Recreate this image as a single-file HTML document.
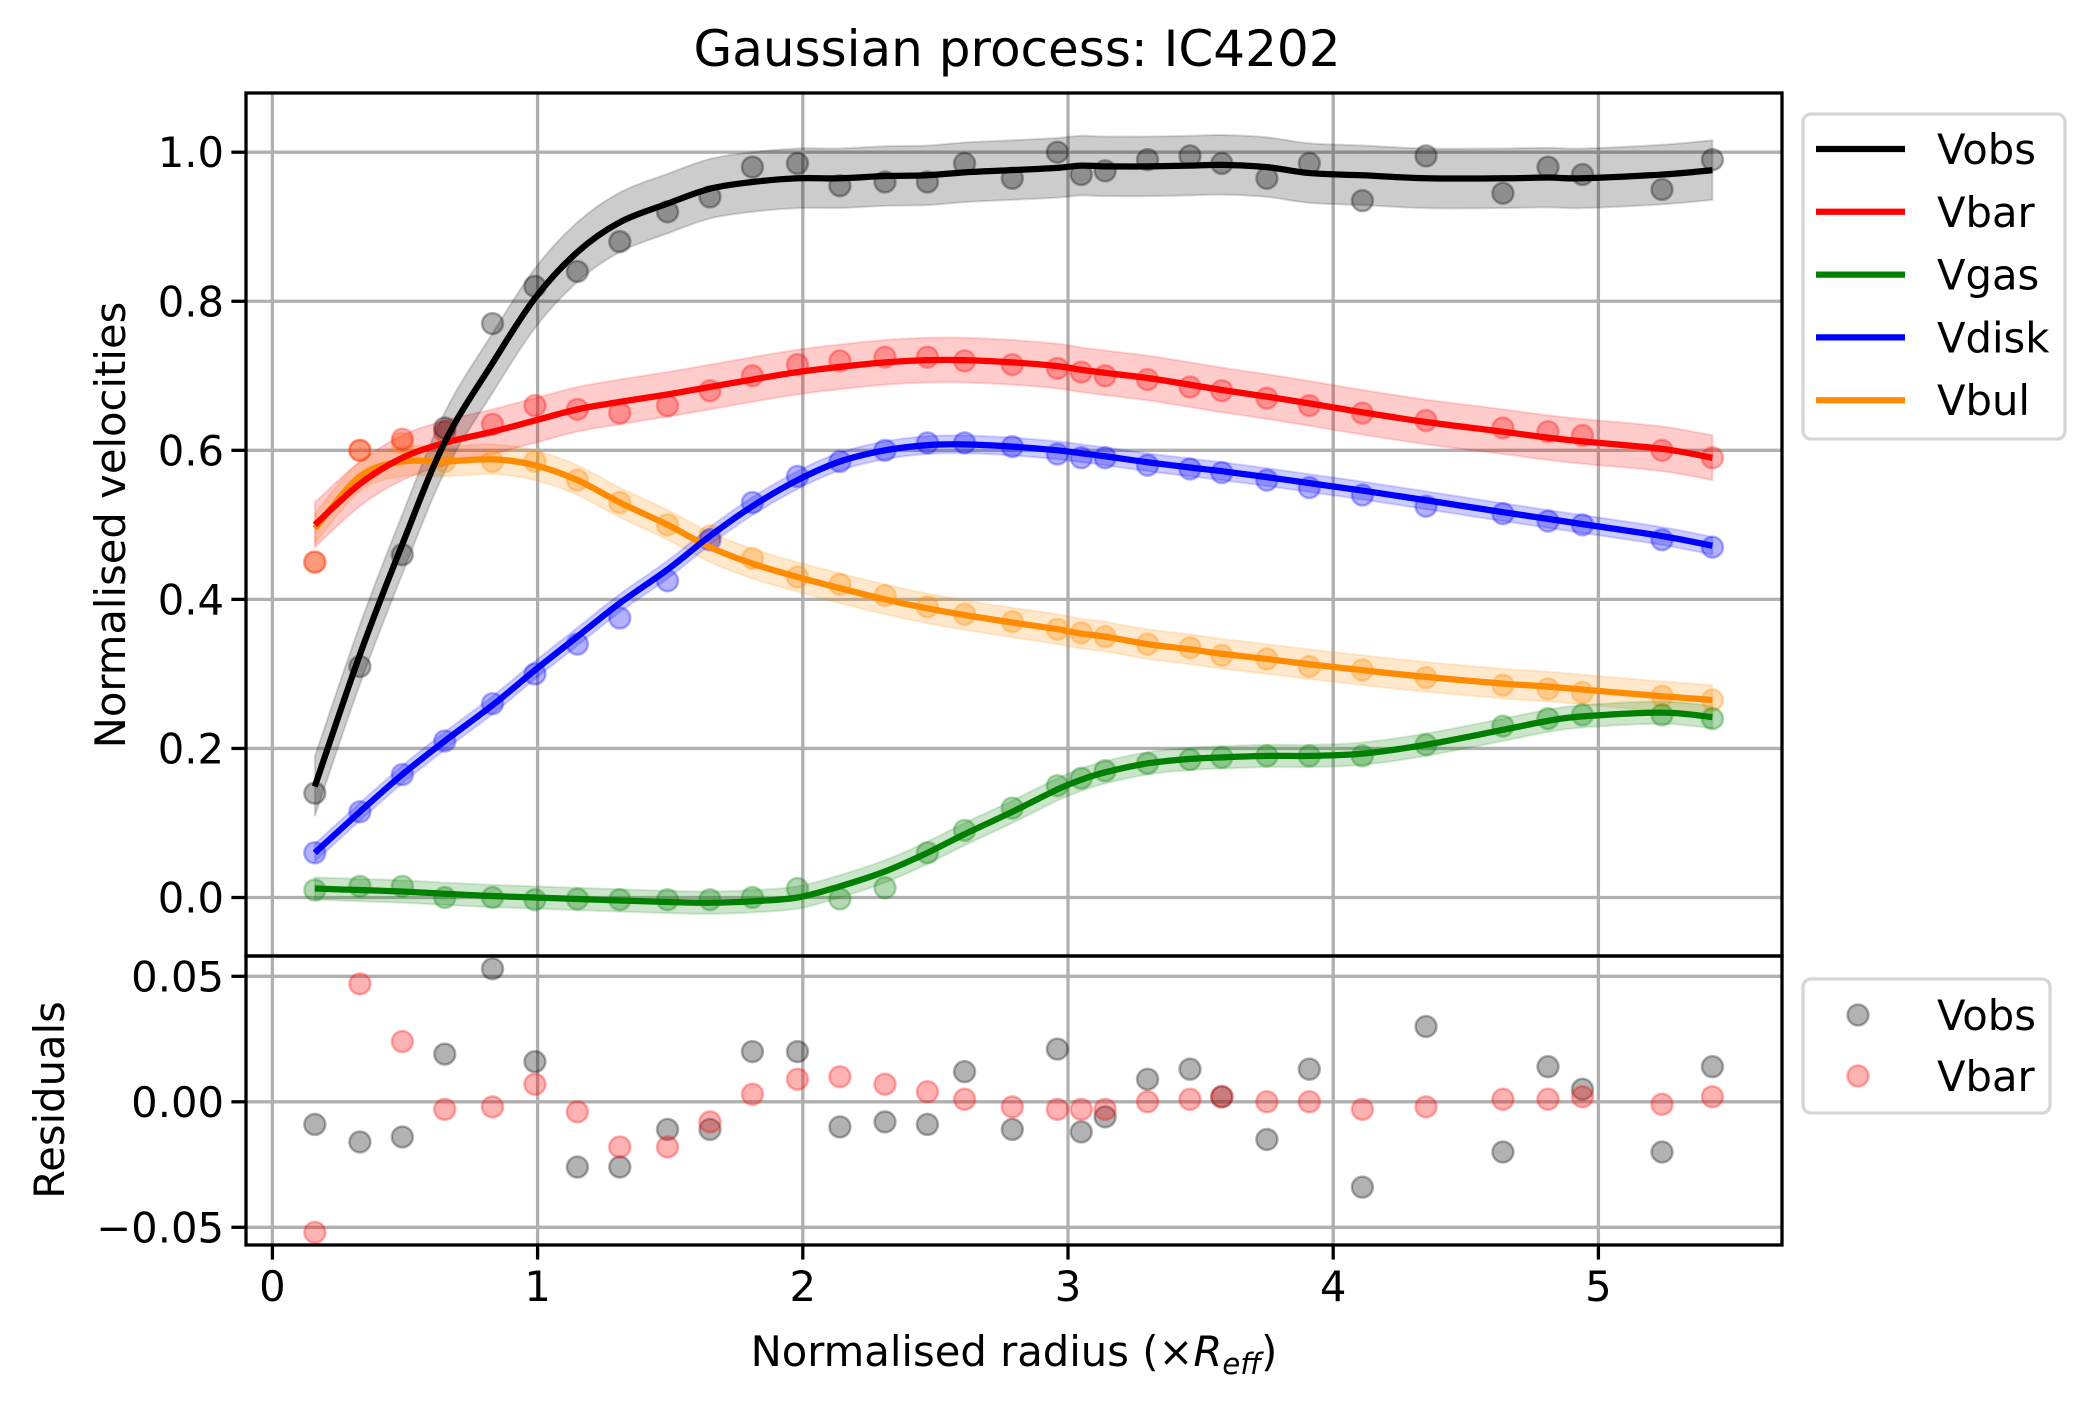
<!DOCTYPE html>
<html><head><meta charset="utf-8"><style>
html,body{margin:0;padding:0;background:#fff;}
svg{display:block;font-family:"DejaVu Sans","Liberation Sans",sans-serif;}
</style></head><body>
<svg id="chart" width="2094" height="1406" viewBox="0 0 2094 1406" xmlns="http://www.w3.org/2000/svg">
<rect width="2094" height="1406" fill="#fff"/>
<text x="1017" y="66" font-size="50" text-anchor="middle">Gaussian process: IC4202</text>
<g id="main"></g>
<g id="resid"></g>
<text transform="translate(125,525) rotate(-90)" font-size="41.7" text-anchor="middle">Normalised velocities</text>
<text transform="translate(64,1100) rotate(-90)" font-size="41.7" text-anchor="middle">Residuals</text>
<text x="1014" y="1366" font-size="41.7" text-anchor="middle">Normalised radius (×<tspan font-style="italic">R</tspan><tspan font-style="italic" font-size="29" dy="8">eff</tspan><tspan dy="-8">)</tspan></text>
</svg>
<script>
const radius=[0.16,0.33,0.49,0.65,0.83,0.99,1.15,1.31,1.49,1.65,1.81,1.98,2.14,2.31,2.47,2.61,2.79,2.96,3.05,3.14,3.30,3.46,3.58,3.75,3.91,4.11,4.35,4.64,4.81,4.94,5.24,5.43];
const obsPts=[0.14,0.31,0.46,0.63,0.77,0.82,0.84,0.88,0.92,0.94,0.98,0.985,0.955,0.96,0.96,0.985,0.965,1.0,0.97,0.975,0.99,0.995,0.985,0.965,0.985,0.935,0.995,0.945,0.98,0.97,0.95,0.99];
const obsFit=[0.149,0.326,0.474,0.611,0.717,0.804,0.866,0.906,0.931,0.951,0.96,0.965,0.965,0.968,0.969,0.973,0.976,0.979,0.982,0.981,0.981,0.982,0.983,0.98,0.972,0.969,0.965,0.965,0.966,0.965,0.97,0.976];
const barPts=[0.45,0.60,0.615,0.625,0.635,0.66,0.655,0.65,0.66,0.68,0.70,0.715,0.72,0.725,0.725,0.72,0.715,0.71,0.705,0.70,0.695,0.685,0.68,0.67,0.66,0.65,0.64,0.63,0.625,0.62,0.60,0.59];
const barFit=[0.50,0.555,0.59,0.61,0.625,0.64,0.655,0.665,0.675,0.685,0.695,0.705,0.712,0.718,0.721,0.721,0.718,0.713,0.708,0.704,0.697,0.688,0.681,0.672,0.663,0.651,0.638,0.625,0.617,0.612,0.602,0.59];
const gasPts=[0.01,0.015,0.015,0.0,0.0,-0.003,-0.002,-0.003,-0.003,-0.003,0.0,0.012,-0.002,0.013,0.06,0.09,0.12,0.15,0.16,0.17,0.18,0.185,0.188,0.19,0.19,0.19,0.205,0.23,0.24,0.245,0.245,0.24];
const gasFit=[0.012,0.01,0.008,0.005,0.002,0.0,-0.002,-0.004,-0.006,-0.007,-0.005,0.0,0.015,0.035,0.06,0.085,0.115,0.145,0.158,0.168,0.18,0.186,0.188,0.19,0.19,0.193,0.205,0.225,0.237,0.243,0.248,0.242];
const diskPts=[0.06,0.115,0.165,0.21,0.26,0.30,0.34,0.375,0.425,0.48,0.53,0.565,0.585,0.60,0.61,0.61,0.605,0.595,0.59,0.59,0.58,0.575,0.57,0.56,0.55,0.54,0.525,0.515,0.505,0.50,0.48,0.47];
const diskFit=[0.06,0.115,0.165,0.21,0.258,0.305,0.35,0.395,0.44,0.485,0.525,0.56,0.585,0.6,0.607,0.608,0.605,0.6,0.596,0.592,0.584,0.577,0.572,0.564,0.556,0.546,0.533,0.517,0.508,0.501,0.485,0.472];
const bulPts=[0.45,0.60,0.61,0.585,0.585,0.585,0.56,0.53,0.50,0.485,0.455,0.43,0.42,0.405,0.39,0.38,0.37,0.36,0.355,0.35,0.34,0.335,0.325,0.32,0.31,0.305,0.295,0.285,0.28,0.275,0.27,0.265];
const bulFit=[0.495,0.565,0.585,0.585,0.588,0.58,0.56,0.53,0.5,0.47,0.448,0.43,0.415,0.4,0.388,0.379,0.369,0.36,0.354,0.35,0.34,0.333,0.327,0.32,0.313,0.305,0.296,0.287,0.283,0.279,0.27,0.265];
const obsResid=[-0.009,-0.016,-0.014,0.019,0.053,0.016,-0.026,-0.026,-0.011,-0.011,0.020,0.020,-0.010,-0.008,-0.009,0.012,-0.011,0.021,-0.012,-0.006,0.009,0.013,0.002,-0.015,0.013,-0.034,0.030,-0.020,0.014,0.005,-0.020,0.014];
const barResid=[-0.052,0.047,0.024,-0.003,-0.002,0.007,-0.004,-0.018,-0.018,-0.008,0.003,0.009,0.010,0.007,0.004,0.001,-0.002,-0.003,-0.003,-0.003,0.0,0.001,0.002,0.0,0.0,-0.003,-0.002,0.001,0.001,0.002,-0.001,0.002];
const bandHalf=[0.04,0.03,0.015,0.012,0.02];
const seriesNames=["Vobs","Vbar","Vgas","Vdisk","Vbul"];
const xTicks=[0,1,2,3,4,5];
const yTicks=[0.0,0.2,0.4,0.6,0.8,1.0];
const yTickLabels=["0.0","0.2","0.4","0.6","0.8","1.0"];
const rTicks=[-0.05,0,0.05];
const rTickLabels=["\u22120.05","0.00","0.05"];

const NS="http://www.w3.org/2000/svg";
const L=246,R=1782,MT=93,MB=956,RB=1245;
const X=v=>272.4+265.2*v;
const Y=v=>897.5-745.3*v;
const YR=v=>1101.8-2510*v;
function mk(tag,attrs,parent){const e=document.createElementNS(NS,tag);for(const k in attrs)e.setAttribute(k,attrs[k]);parent.appendChild(e);return e;}
function smooth(pts){let d=`M${pts[0][0]},${pts[0][1]}`;for(let i=0;i<pts.length-1;i++){const p0=pts[Math.max(i-1,0)],p1=pts[i],p2=pts[i+1],p3=pts[Math.min(i+2,pts.length-1)];const c1=[p1[0]+(p2[0]-p0[0])/6,p1[1]+(p2[1]-p0[1])/6],c2=[p2[0]-(p3[0]-p1[0])/6,p2[1]-(p3[1]-p1[1])/6];d+=` C${c1[0]},${c1[1]} ${c2[0]},${c2[1]} ${p2[0]},${p2[1]}`;}return d;}
const main=document.getElementById('main'),resid=document.getElementById('resid');
// grids
xTicks.forEach(t=>{
 let g=mk('line',{x1:X(t),x2:X(t),y1:MT,y2:MB,stroke:'#b0b0b0','stroke-width':3.3},main);
 
 g=mk('line',{x1:X(t),x2:X(t),y1:MB,y2:RB,stroke:'#b0b0b0','stroke-width':3.3},resid);
 
 const tk=mk('line',{x1:X(t),x2:X(t),y1:RB,y2:RB+14.6,stroke:'#000','stroke-width':3.3},resid);
 
 const tl=mk('text',{x:X(t),y:RB+56,'font-size':41.7,'text-anchor':'middle'},resid);tl.textContent=String(t);
 
});
yTicks.forEach((t,i)=>{
 const g=mk('line',{x1:L,x2:R,y1:Y(t),y2:Y(t),stroke:'#b0b0b0','stroke-width':3.3},main);
 
 const tk=mk('line',{x1:L-14.6,x2:L,y1:Y(t),y2:Y(t),stroke:'#000','stroke-width':3.3},main);
 
 const tl=mk('text',{x:L-22,y:Y(t)+15,'font-size':41.7,'text-anchor':'end'},main);tl.textContent=yTickLabels[i];
 
});
rTicks.forEach((t,i)=>{
 const g=mk('line',{x1:L,x2:R,y1:YR(t),y2:YR(t),stroke:'#b0b0b0','stroke-width':3.3},resid);
 
 const tk=mk('line',{x1:L-14.6,x2:L,y1:YR(t),y2:YR(t),stroke:'#000','stroke-width':3.3},resid);
 
 const tl=mk('text',{x:L-22,y:YR(t)+15,'font-size':41.7,'text-anchor':'end'},resid);tl.textContent=rTickLabels[i];
 
});
const colors=['#000000','#ff0000','#008000','#0000ff','#ff8c00'];
const pts=[obsPts,barPts,gasPts,diskPts,bulPts];
const fits=[obsFit,barFit,gasFit,diskFit,bulFit];
// bands
[4,3,2,1,0].forEach(s=>{
 const up=radius.map((r,i)=>[X(r),Y(fits[s][i]+bandHalf[s])]);
 const lo=radius.map((r,i)=>[X(r),Y(fits[s][i]-bandHalf[s])]).reverse();
 const d=smooth(up)+' L'+smooth(lo).slice(1)+' Z';
 const b=mk('path',{d:d,fill:colors[s],'fill-opacity':0.2,stroke:colors[s],'stroke-opacity':0.15,'stroke-width':2},main);
 
});
// markers
[4,3,2,1,0].forEach(s=>{
 radius.forEach((r,i)=>{
  const c=mk('circle',{cx:X(r),cy:Y(pts[s][i]),r:10.5,fill:colors[s],'fill-opacity':0.3,stroke:colors[s],'stroke-opacity':0.3,'stroke-width':2.5},main);
  
 });
});
// lines
[4,3,2,1,0].forEach(s=>{
 const p=mk('path',{d:smooth(radius.map((r,i)=>[X(r),Y(fits[s][i])])),fill:'none',stroke:colors[s],'stroke-width':6.25},main);
 
});
// residual markers
radius.forEach((r,i)=>{
 let c=mk('circle',{cx:X(r),cy:YR(obsResid[i]),r:10.5,fill:'#000','fill-opacity':0.3,stroke:'#000','stroke-opacity':0.3,'stroke-width':2.5},resid);
 
});
radius.forEach((r,i)=>{
 let c=mk('circle',{cx:X(r),cy:YR(barResid[i]),r:10.5,fill:'#ff0000','fill-opacity':0.3,stroke:'#ff0000','stroke-opacity':0.3,'stroke-width':2.5},resid);
 
});
// frames
let f=mk('rect',{x:L,y:MT,width:R-L,height:MB-MT,fill:'none',stroke:'#000','stroke-width':3.3},main);

f=mk('rect',{x:L,y:MB,width:R-L,height:RB-MB,fill:'none',stroke:'#000','stroke-width':3.3},resid);

// legends
const svg=document.getElementById('chart');
const lg=mk('g',{},svg);

mk('rect',{x:1803,y:114,width:262,height:325,rx:8,fill:'#fff','fill-opacity':0.8,stroke:'#d6d6d6','stroke-width':3.3},lg);
seriesNames.forEach((n,i)=>{
 const y=149+i*62.8;
 const e=mk('g',{},lg);
 
 mk('line',{x1:1816,x2:1905,y1:y,y2:y,stroke:colors[i],'stroke-width':6.25},e);
 const t=mk('text',{x:1937,y:y+15,'font-size':41.7},e);t.textContent=n;
});
const rg=mk('g',{},svg);

mk('rect',{x:1803,y:979,width:247,height:134,rx:8,fill:'#fff','fill-opacity':0.8,stroke:'#d6d6d6','stroke-width':3.3},rg);
[['Vobs','#000'],['Vbar','#ff0000']].forEach((a,i)=>{
 const y=1015+i*61;
 const e=mk('g',{},rg);
 
 mk('circle',{cx:1858,cy:y,r:10.5,fill:a[1],'fill-opacity':0.3,stroke:a[1],'stroke-opacity':0.3,'stroke-width':2.5},e);
 const t=mk('text',{x:1937,y:y+15,'font-size':41.7},e);t.textContent=a[0];
});
</script>
</body></html>
